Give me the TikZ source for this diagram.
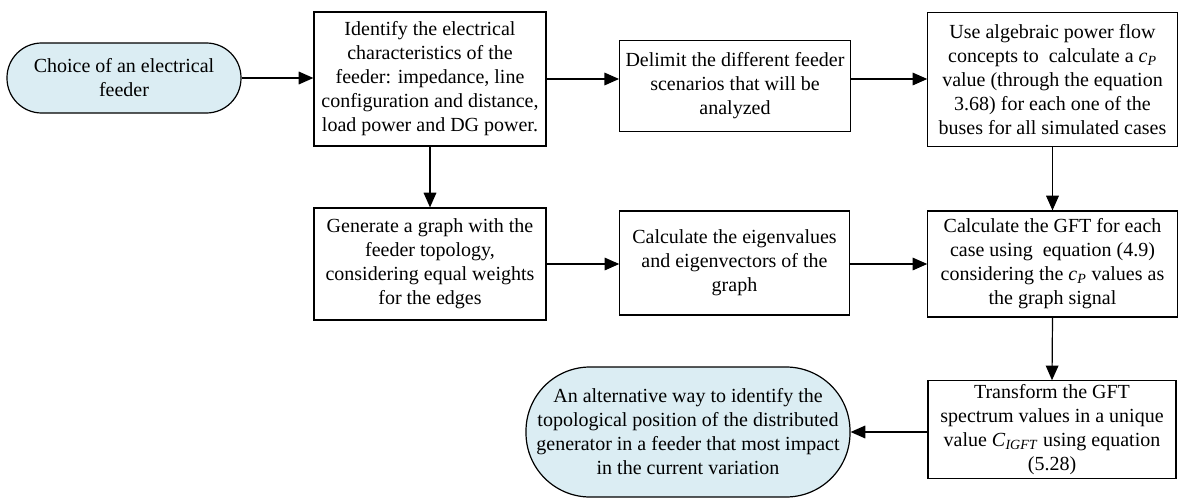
\documentclass[tikz,border=0pt]{standalone}
\usepackage{fontspec}
\setmainfont{Liberation Serif}
\usetikzlibrary{arrows.meta}
\definecolor{termfill}{RGB}{219,237,243}
\tikzset{
  every node/.style={font=\fontsize{15pt}{18pt}\selectfont, align=center, inner sep=0pt},
  stepbox/.style={draw, line width=0.9pt, rectangle},
  terminal/.style={draw, line width=0.9pt, fill=termfill, rectangle},
  flow/.style={line width=0.9pt, -{Triangle[length=11pt,width=9.5pt]}}
}
\newcommand{\cP}{\textit{c}\textsubscript{\textit{P}}}
\begin{document}
\begin{tikzpicture}[x=0.75pt, y=-0.75pt]
\useasboundingbox (0,0) rectangle (1179,500);

\node[terminal, minimum width=175.5pt, minimum height=52.5pt, rounded corners=26pt] (start) at (124,78)
  {Choice of an electrical\\feeder};
\node[stepbox, minimum width=174pt, minimum height=100.5pt] (b1) at (430,79)
  {Identify the electrical\\characteristics of the\\feeder: impedance, line\\configuration and distance,\\load power and DG power.};
\node[stepbox, minimum width=173pt, minimum height=68pt] (b2) at (735,86)
  {Delimit the different feeder\\scenarios that will be\\analyzed};
\node[stepbox, minimum width=187pt, minimum height=101pt] (b3) at (1052.5,79.5)
  {Use algebraic power flow\\concepts to\ \ calculate a \cP\\value (through the equation\\3.68) for each one of the\\buses for all simulated cases};
\node[stepbox, minimum width=174pt, minimum height=84pt] (b4) at (430,264)
  {Generate a graph with the\\feeder topology,\\considering equal weights\\for the edges};
\node[stepbox, minimum width=172pt, minimum height=78pt] (b5) at (734.5,263)
  {Calculate the eigenvalues\\and eigenvectors of the\\graph};
\node[stepbox, minimum width=187pt, minimum height=79.5pt] (b6) at (1052.5,264)
  {Calculate the GFT for each\\case using\ \ equation (4.9)\\considering the \cP{} values as\\the graph signal};
\node[stepbox, minimum width=186pt, minimum height=73pt] (b7) at (1052,429.5)
  {Transform the GFT\\spectrum values in a unique\\value \textit{C}\textsubscript{\textit{IGFT}} using equation\\(5.28)};
\node[terminal, minimum width=243pt, minimum height=97.5pt, rounded corners=48pt] (end) at (688,432)
  {An alternative way to identify the\\topological position of the distributed\\generator in a feeder that most impact\\in the current variation};

\draw[flow] (start.east) -- (start.east -| b1.west);
\draw[flow] (b1.east) -- (b1.east -| b2.west);
\draw[flow] (b2.east |- b1.east) -- (b3.west |- b1.east);
\draw[flow] (b1.south) -- (b4.north);
\draw[flow] (b3.south) -- (b6.north);
\draw[flow] (b4.east) -- (b4.east -| b5.west);
\draw[flow] (b5.east |- b4.east) -- (b6.west |- b4.east);
\draw[flow] (b6.south) -- (b7.north);
\draw[flow] (b7.west |- end.east) -- (end.east);
\end{tikzpicture}
\end{document}
